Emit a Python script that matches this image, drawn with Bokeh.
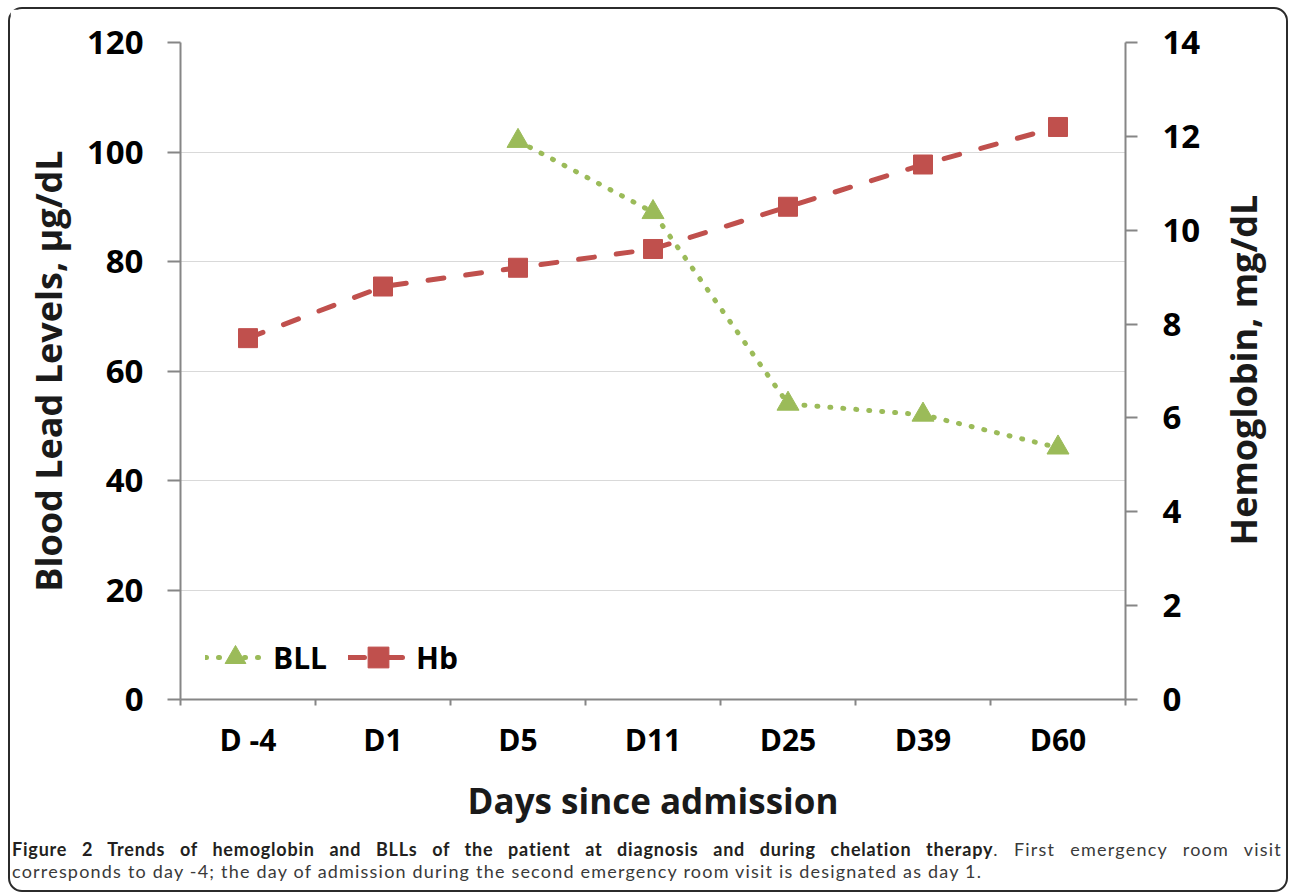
import math
import numpy as np
from bokeh.plotting import figure
from bokeh.models import Range1d, LinearAxis, FixedTicker, Legend, LegendItem, Div
from bokeh.layouts import column, row
from bokeh.embed import file_html
from bokeh.resources import INLINE

# ---- data ----
days = ["D -4", "D1", "D5", "D11", "D25", "D39", "D60"]
bll = [float("nan"), float("nan"), 102, 89, 54, 52, 46]
hb = [7.7, 8.8, 9.2, 9.6, 10.5, 11.4, 12.2]
bll_ticks = [0, 20, 40, 60, 80, 100, 120]
hb_ticks = [0, 2, 4, 6, 8, 10, 12, 14]

RED = "#C0504D"
GREEN = "#9BBB59"
AXIS = "#868686"
FONT = "Open Sans"

xs = [i + 0.5 for i in range(len(days))]
bounds = [i for i in range(len(days) + 1)]

FIG_W, FIG_H = 1215, 820

p = figure(width=FIG_W, height=FIG_H, x_range=Range1d(0, len(days)),
           y_range=Range1d(bll_ticks[0], bll_ticks[-1]),
           output_backend="svg", toolbar_location=None,
           min_border_left=170, min_border_right=100,
           min_border_top=33, min_border_bottom=130)
p.extra_y_ranges = {"hb": Range1d(hb_ticks[0], hb_ticks[-1])}
p.outline_line_color = None
p.background_fill_color = "white"
p.border_fill_color = "white"

# grid
p.xgrid.visible = False
p.ygrid.ticker = FixedTicker(ticks=bll_ticks)
p.ygrid.grid_line_color = "#D9D9D9"
p.ygrid.grid_line_width = 1

def style_axis(ax):
    ax.axis_line_color = AXIS
    ax.axis_line_width = 2
    ax.major_tick_line_color = AXIS
    ax.major_tick_line_width = 2
    ax.minor_tick_line_color = AXIS
    ax.minor_tick_line_width = 2
    ax.major_label_text_font = FONT
    ax.major_label_text_font_style = "bold"
    ax.major_label_text_font_size = "33px"
    ax.major_label_text_color = "#000000"
    ax.axis_label_text_font = FONT
    ax.axis_label_text_font_style = "bold"
    ax.axis_label_text_font_size = "36px"
    ax.axis_label_text_color = "#1a1a1a"

# x axis
xa = p.xaxis[0]
style_axis(xa)
xa.ticker = FixedTicker(ticks=xs, minor_ticks=bounds)
xa.major_label_overrides = {x: d for x, d in zip(xs, days)}
xa.major_tick_in = 0
xa.major_tick_out = 0
xa.minor_tick_in = 0
xa.minor_tick_out = 6
xa.major_label_standoff = 13
xa.major_label_text_font_size = "30px"
xa.axis_label = "Days since admission"
xa.axis_label_text_font_size = "35px"
xa.axis_label_standoff = 14

# left axis
ya = p.yaxis[0]
style_axis(ya)
ya.ticker = FixedTicker(ticks=bll_ticks)
ya.major_tick_in = 0
ya.major_tick_out = 13
ya.minor_tick_out = 0
ya.minor_tick_in = 0
ya.major_label_standoff = 24
ya.axis_label = "Blood Lead Levels, µg/dL"
ya.axis_label_standoff = 11

# right axis
ra = LinearAxis(y_range_name="hb", ticker=FixedTicker(ticks=hb_ticks))
style_axis(ra)
ra.major_tick_in = 0
ra.major_tick_out = 12
ra.minor_tick_out = 0
ra.minor_tick_in = 0
ra.major_label_standoff = 25
p.add_layout(ra, "right")

# series
hb_line = p.line(xs, np.array(hb, dtype=float), y_range_name="hb", line_color=RED,
                 line_width=5, line_dash="16 22", line_cap="round")
hb_pts = p.scatter(xs, np.array(hb, dtype=float), y_range_name="hb", marker="square",
                   size=19, fill_color=RED, line_color=RED)
bll_line = p.line(xs, np.array(bll, dtype=float), line_color=GREEN, line_width=5,
                  line_dash="1 12", line_cap="round")
bll_pts = p.scatter(xs, np.array(bll, dtype=float), marker="triangle", size=22,
                    fill_color=GREEN, line_color=GREEN)

legend = Legend(items=[LegendItem(label="BLL", renderers=[bll_line, bll_pts]),
                       LegendItem(label="Hb", renderers=[hb_line, hb_pts])],
                orientation="horizontal", location=(20, 11),
                glyph_width=60, glyph_height=52, label_standoff=8, spacing=21,
                padding=5, margin=0,
                label_text_font=FONT, label_text_font_style="bold",
                label_text_font_size="30px", label_text_color="#000000",
                border_line_alpha=0, background_fill_alpha=0)
p.add_layout(legend)

# right-hand axis title, reading bottom to top
right_title = Div(text=(
    "<div style=\"position:relative; width:61px; height:%dpx;\">"
    "<div style=\"position:absolute; left:19px; top:361px;"
    " transform:translate(-50%%,-50%%) rotate(-90deg); white-space:nowrap;"
    " font-family:'Open Sans'; font-weight:bold; font-size:36px; line-height:40px;"
    " color:#1a1a1a;\">Hemoglobin, mg/dL</div></div>") % FIG_H,
    width=61, height=FIG_H, margin=0)

caption = Div(text=(
    "<div style=\"font-family:Lato; font-size:18px; line-height:22px; color:#3a3a3a;"
    " letter-spacing:1.2px; width:1272px; padding:9px 0 0 2px;\">"
    "<div style='text-align:justify; text-align-last:justify; white-space:nowrap;'>"
    "<b style='color:#231f20; letter-spacing:0.8px;'>Figure 2 Trends of hemoglobin and BLLs of the patient at diagnosis "
    "and during chelation therapy</b>. First emergency room visit</div>"
    "<div style='white-space:nowrap;'>corresponds to day -4; the day of admission during the second "
    "emergency room visit is designated as day 1.</div></div>"),
    width=1276, height=61, margin=0)

layout = column(row(p, right_title), caption,
                styles={"border": "2px solid #2b2b2b", "border-radius": "14px",
                        "background": "white", "margin-left": "8px",
                        "margin-top": "7px"})

open("out.html", "w").write(file_html(layout, INLINE))
